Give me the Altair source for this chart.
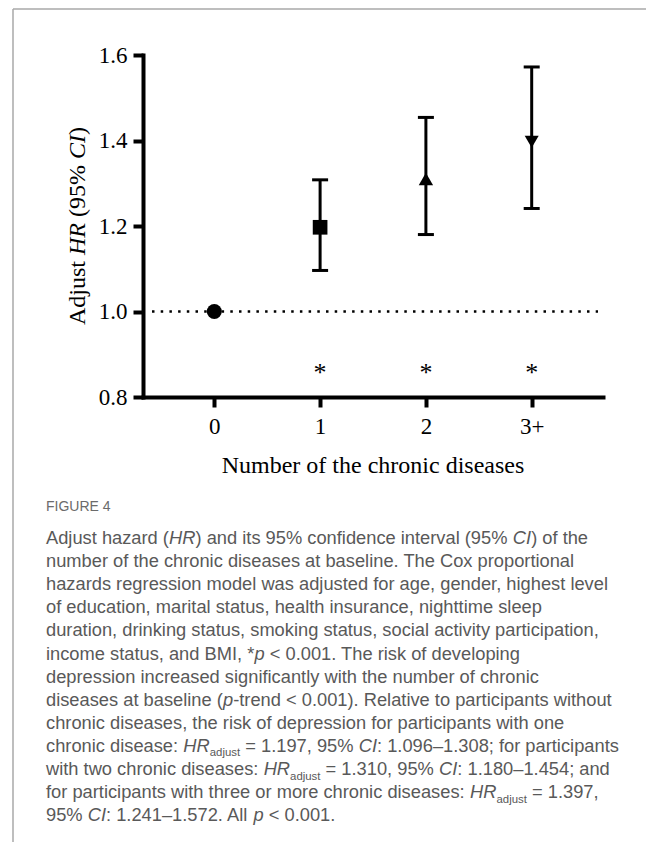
import re
import altair as alt
import pandas as pd

# ---------------- data ----------------
categories = ["0", "1", "2", "3+"]
hr_adjusted = [1.0, 1.197, 1.310, 1.397]
ci_low = [None, 1.096, 1.180, 1.241]
ci_high = [None, 1.308, 1.454, 1.572]
significance = ["", "*", "*", "*"]
marker_shapes = ["circle", "square", "triangle-up", "triangle-down"]
y_ticks = [0.8, 1.0, 1.2, 1.4, 1.6]
y_domain = [0.8, 1.6]
reference_hr = 1.0
star_level = 0.868

x_title = "Number of the chronic diseases"
y_title_parts = [("Adjust ", "n"), ("HR", "i"), (" (95% ", "n"), ("CI", "i"), (")", "n")]
figure_label = "FIGURE 4"
caption_lines = [
    "Adjust hazard (<i>HR</i>) and its 95% confidence interval (95% <i>CI</i>) of the",
    "number of the chronic diseases at baseline. The Cox proportional",
    "hazards regression model was adjusted for age, gender, highest level",
    "of education, marital status, health insurance, nighttime sleep",
    "duration, drinking status, smoking status, social activity participation,",
    "income status, and BMI, *<i>p</i> < 0.001. The risk of developing",
    "depression increased significantly with the number of chronic",
    "diseases at baseline (<i>p</i>-trend < 0.001). Relative to participants without",
    "chronic diseases, the risk of depression for participants with one",
    "chronic disease: <i>HR</i><sub>adjust</sub> = 1.197, 95% <i>CI</i>: 1.096\u20131.308; for participants",
    "with two chronic diseases: <i>HR</i><sub>adjust</sub> = 1.310, 95% <i>CI</i>: 1.180\u20131.454; and",
    "for participants with three or more chronic diseases: <i>HR</i><sub>adjust</sub> = 1.397,",
    "95% <i>CI</i>: 1.241\u20131.572. All <i>p</i> < 0.001.",
]

# ---------------- layout ----------------
W, H = 460, 342
PAD_L, PAD_T = 135, 47
TOTAL_W, TOTAL_H = 638, 834
SERIF = "Liberation Serif"
SANS = "Liberation Sans"
CAP_COLOR = "#595959"

# font metrics (per 1000 em) for inline layout of mixed-style text
HELV = {}
for ch, w in zip("abcdefghijklmnopqrstuvwxyz",
                 [556, 556, 500, 556, 556, 278, 556, 556, 222, 222, 500, 222, 833,
                  556, 556, 556, 556, 333, 500, 278, 556, 500, 722, 500, 500, 500]):
    HELV[ch] = w
for ch, w in zip("ABCDEFGHIJKLMNOPQRSTUVWXYZ",
                 [667, 667, 722, 722, 667, 611, 778, 722, 278, 500, 667, 556, 833,
                  722, 778, 667, 778, 722, 667, 611, 722, 667, 944, 667, 667, 611]):
    HELV[ch] = w
for ch in "0123456789":
    HELV[ch] = 556
HELV.update({" ": 278, "(": 333, ")": 333, ",": 278, ".": 278, ":": 278, ";": 278,
             "*": 389, "<": 584, "=": 584, "\u2013": 556, "-": 333, "%": 889})

TIMES_N = {" ": 250, "(": 333, ")": 333, "%": 833, "9": 500, "5": 500, "A": 722,
           "d": 500, "j": 278, "u": 500, "s": 389, "t": 278}
TIMES_I = {"H": 722, "R": 611, "C": 667, "I": 333}


def text_width(s, table, size):
    return sum(table.get(c, 556) for c in s) * size / 1000.0


# caption segments
CAP_FS = 18.3
SUB_FS = 11.4
CAP_X0 = 46 - 143
CAP_Y0 = 489
CAP_DY = 23.1
cap_rows = []
for li, line in enumerate(caption_lines):
    x = CAP_X0
    yb = CAP_Y0 + li * CAP_DY
    for piece in re.split(r"(<i>.*?</i>|<sub>.*?</sub>)", line):
        if not piece:
            continue
        if piece.startswith("<i>"):
            seg, kind, size = piece[3:-4], "i", CAP_FS
        elif piece.startswith("<sub>"):
            seg, kind, size = piece[5:-6], "sub", SUB_FS
        else:
            seg, kind, size = piece, "n", CAP_FS
        stripped = seg.lstrip(" ")
        x += text_width(seg[: len(seg) - len(stripped)], HELV, size)
        cap_rows.append({"t": stripped, "x": x, "y": yb + (4.5 if kind == "sub" else 0), "kind": kind})
        x += text_width(stripped, HELV, size)
cap_df = pd.DataFrame(cap_rows)

# y title segments (rotated, reading bottom to top)
YT_FS = 24
seg_w = [text_width(s, TIMES_I if k == "i" else TIMES_N, YT_FS) for s, k in y_title_parts]
y_start = H / 2 + sum(seg_w) / 2
yt_rows = []
pos = y_start
for (s, k), w in zip(y_title_parts, seg_w):
    stripped = s.lstrip(" ")
    lead = w - text_width(stripped, TIMES_I if k == "i" else TIMES_N, YT_FS)
    yt_rows.append({"t": stripped, "x": -58, "y": pos - lead, "kind": k})
    pos -= w
yt_df = pd.DataFrame(yt_rows)

# ---------------- chart ----------------
df = pd.DataFrame({"cat": categories, "hr": hr_adjusted, "lo": ci_low, "hi": ci_high,
                   "sig": significance})

x_enc = alt.X("cat:N", sort=categories,
              scale=alt.Scale(type="point", padding=0.674),
              axis=alt.Axis(title=None, labelAngle=0, labelFont=SERIF, labelFontSize=23,
                            labelColor="black", labelPadding=8, tickSize=10, tickWidth=4,
                            tickColor="black", domainColor="black", domainWidth=4,
                            domainCap="square", tickCap="butt", grid=False))
y_scale = alt.Scale(domain=y_domain, nice=False, zero=False)
y_axis = alt.Axis(title=None, values=y_ticks, format=".1f", labelFont=SERIF, labelFontSize=23,
                  labelColor="black", labelPadding=6, tickSize=10, tickWidth=4,
                  tickColor="black", domainColor="black", domainWidth=4, domainCap="square",
                  grid=False)

base = alt.Chart(df)

ref_line = alt.Chart(pd.DataFrame({"ref": [reference_hr]})).mark_rule(
    color="black", strokeWidth=2.5, strokeDash=[2.5, 6.2]
).encode(y=alt.Y("ref:Q", scale=y_scale, axis=y_axis), x=alt.value(9), x2=alt.value(455))

err = base.transform_filter("isValid(datum.lo)")
whisker = err.mark_rule(color="black", strokeWidth=3).encode(
    x=x_enc, y=alt.Y("lo:Q", scale=y_scale, axis=y_axis), y2="hi:Q")
cap_lo = err.mark_tick(color="black", thickness=3, size=16, orient="horizontal", opacity=1).encode(
    x=x_enc, y=alt.Y("lo:Q", scale=y_scale))
cap_hi = err.mark_tick(color="black", thickness=3, size=16, orient="horizontal", opacity=1).encode(
    x=x_enc, y=alt.Y("hi:Q", scale=y_scale))

points = base.mark_point(filled=True, color="black", opacity=1).encode(
    x=x_enc,
    y=alt.Y("hr:Q", scale=y_scale, axis=y_axis),
    shape=alt.Shape("cat:N", scale=alt.Scale(domain=categories, range=marker_shapes), legend=None),
    size=alt.Size("cat:O", scale=alt.Scale(domain=categories, range=[225, 196, 272, 272]),
                  legend=None),
)

stars = base.transform_calculate(star=str(star_level)).mark_text(
    font=SERIF, fontSize=26, baseline="middle", dy=5, color="black"
).encode(x=x_enc, y=alt.Y("star:Q", scale=y_scale), text="sig:N")

xt = alt.Chart(pd.DataFrame({"t": [x_title]})).mark_text(
    font=SERIF, fontSize=24, align="center", baseline="alphabetic", color="black"
).encode(text="t:N", x=alt.value(W / 2), y=alt.value(418))

yt_n = alt.Chart(yt_df).transform_filter("datum.kind == 'n'").mark_text(
    font=SERIF, fontSize=YT_FS, angle=270, align="left", baseline="alphabetic", color="black"
).encode(text="t:N", x=alt.X("x:Q", scale=None), y=alt.Y("y:Q", scale=None))
yt_i = alt.Chart(yt_df).transform_filter("datum.kind == 'i'").mark_text(
    font=SERIF, fontSize=YT_FS, fontStyle="italic", angle=270, align="left",
    baseline="alphabetic", color="black"
).encode(text="t:N", x=alt.X("x:Q", scale=None), y=alt.Y("y:Q", scale=None))

cap_n = alt.Chart(cap_df).transform_filter("datum.kind == 'n'").mark_text(
    font=SANS, fontSize=CAP_FS, align="left", baseline="alphabetic", color=CAP_COLOR
).encode(text="t:N", x=alt.X("x:Q", scale=None), y=alt.Y("y:Q", scale=None))
cap_i = alt.Chart(cap_df).transform_filter("datum.kind == 'i'").mark_text(
    font=SANS, fontSize=CAP_FS, fontStyle="italic", align="left", baseline="alphabetic",
    color=CAP_COLOR
).encode(text="t:N", x=alt.X("x:Q", scale=None), y=alt.Y("y:Q", scale=None))
cap_s = alt.Chart(cap_df).transform_filter("datum.kind == 'sub'").mark_text(
    font=SANS, fontSize=SUB_FS, align="left", baseline="alphabetic", color=CAP_COLOR
).encode(text="t:N", x=alt.X("x:Q", scale=None), y=alt.Y("y:Q", scale=None))

fig_lbl = alt.Chart(pd.DataFrame({"t": [figure_label]})).mark_text(
    font=SANS, fontSize=14, align="left", baseline="alphabetic", color="#6b6b6b"
).encode(text="t:N", x=alt.value(CAP_X0), y=alt.value(456))

frame_top = alt.Chart(pd.DataFrame({"a": [0]})).mark_rule(color="#a8a8a8", strokeWidth=1.5).encode(
    x=alt.value(-130), x2=alt.value(TOTAL_W), y=alt.value(-46))
frame_left = alt.Chart(pd.DataFrame({"a": [0]})).mark_rule(color="#a8a8a8", strokeWidth=1.5).encode(
    x=alt.value(-130), y=alt.value(-46), y2=alt.value(TOTAL_H))

chart = alt.layer(
    frame_top, frame_left, ref_line, whisker, cap_lo, cap_hi, points, stars,
    xt, yt_n, yt_i, fig_lbl, cap_n, cap_i, cap_s
).properties(
    width=W, height=H,
    background="white",
    autosize=alt.AutoSizeParams(type="none"),
    padding={"left": PAD_L, "top": PAD_T, "right": TOTAL_W - PAD_L - W,
             "bottom": TOTAL_H - PAD_T - H},
).configure_view(stroke="transparent", strokeWidth=0)

chart.save("out.html", embed_options={"renderer": "svg", "actions": False})
